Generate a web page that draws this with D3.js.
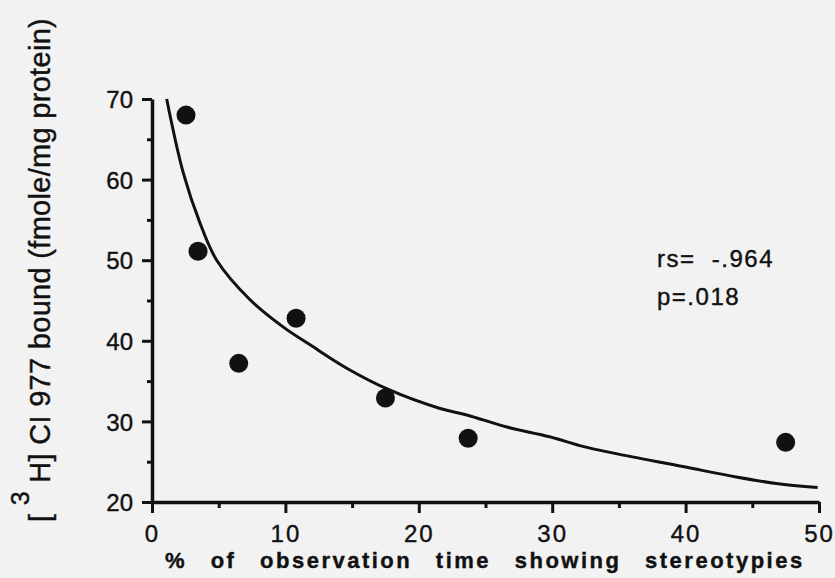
<!DOCTYPE html>
<html>
<head>
<meta charset="utf-8">
<script src="https://cdn.jsdelivr.net/npm/d3@7"></script>
<style>
  body { margin: 0; background: #f2f2f2; }
  svg { display: block; background: #f2f2f2; }
  text { font-family: "Liberation Sans", Arial, Helvetica, sans-serif; fill: #111; stroke: #111; stroke-width: 0.4px; }
</style>
</head>
<body>
<div id="chart"></div>
<script>

// measured points (% of observation time, fmole/mg protein)
var pctTime  = [2.55, 3.45, 6.5, 10.8, 17.5, 23.7, 47.5];
var bound    = [68.0, 51.1, 37.2, 42.8, 32.9, 27.9, 27.4];

// fitted curve
var curveX = [1.1, 2.35, 3.6, 4.85, 7.35, 9.85, 11.85, 14.6, 17.8, 21.6, 23.6, 26.6, 29.8, 32.3, 34.8, 39.8, 43.8, 46.8, 49.9];
var curveY = [70.0, 60.8, 54.6, 50.0, 45.1, 41.7, 39.5, 36.6, 33.9, 31.6, 30.8, 29.3, 28.1, 26.9, 26.0, 24.4, 23.1, 22.3, 21.8];

var xMajor = [0, 10, 20, 30, 40, 50];
var xMinor = [5, 15, 25, 35, 45];
var yMajor = [20, 30, 40, 50, 60, 70];
var yMinor = [25, 35, 45, 55, 65];

var statLines = ["rs=  -.964", "p=.018"];

var width = 835, height = 578;

var svg = d3.select("#chart").append("svg")
    .attr("width", width)
    .attr("height", height);

var x = d3.scaleLinear().domain([0, 50]).range([152, 819]);
var y = d3.scaleLinear().domain([20, 70]).range([502, 99]);

// y axis: minor ticks, then major ticks with labels
svg.append("g")
    .attr("transform", "translate(" + x(0) + ",0)")
    .call(d3.axisLeft(y).tickValues(yMinor).tickSize(5).tickSizeOuter(0).tickFormat(""))
    .call(function(g) { g.select(".domain").remove(); });

var yAx = svg.append("g")
    .attr("transform", "translate(" + x(0) + ",0)")
    .call(d3.axisLeft(y).tickValues(yMajor).tickSize(10).tickSizeOuter(0).tickPadding(9));

// x axis
svg.append("g")
    .attr("transform", "translate(0," + y(20) + ")")
    .call(d3.axisBottom(x).tickValues(xMinor).tickSize(6).tickSizeOuter(0).tickFormat(""))
    .call(function(g) { g.select(".domain").remove(); });

var xAx = svg.append("g")
    .attr("transform", "translate(0," + y(20) + ")")
    .call(d3.axisBottom(x).tickValues(xMajor).tickSize(11).tickSizeOuter(0).tickPadding(12));

svg.selectAll(".tick line")
    .attr("stroke", "#111")
    .attr("stroke-width", 3);
svg.selectAll(".domain")
    .attr("stroke", "#111")
    .attr("stroke-width", 3.5);

yAx.selectAll("text")
    .style("font-size", "24px")
    .attr("dy", "0.36em");

xAx.selectAll("text")
    .style("font-size", "24px")
    .style("letter-spacing", "2px")
    .attr("dy", "0.72em");

// fitted curve
var line = d3.line()
    .x(function(d, i) { return x(curveX[i]); })
    .y(function(d, i) { return y(curveY[i]); })
    .curve(d3.curveCatmullRom);

svg.append("path")
    .datum(curveX)
    .attr("d", line)
    .attr("fill", "none")
    .attr("stroke", "#111")
    .attr("stroke-width", 3);

// points
svg.selectAll(".dot")
    .data(pctTime)
    .enter().append("circle")
    .attr("class", "dot")
    .attr("cx", function(d) { return x(d); })
    .attr("cy", function(d, i) { return y(bound[i]); })
    .attr("r", 9.5)
    .attr("fill", "#111");

// stats
svg.selectAll(".stat")
    .data(statLines)
    .enter().append("text")
    .attr("class", "stat")
    .attr("x", 657)
    .attr("y", function(d, i) { return 267 + i * 38; })
    .style("font-size", "24px")
    .style("letter-spacing", "1.5px")
    .style("white-space", "pre")
    .text(function(d) { return d; });

// x title
svg.append("text")
    .attr("x", 165)
    .attr("y", 568)
    .style("font-size", "22px")
    .style("font-weight", "bold")
    .style("letter-spacing", "2.5px")
    .style("word-spacing", "15px")
    .text("% of observation time showing stereotypies");

// y title with superscript 3
var yt = svg.append("text")
    .attr("transform", "translate(50,270) rotate(-90)")
    .attr("text-anchor", "middle")
    .style("font-size", "29px")
    .style("letter-spacing", "0.3px")
    .style("white-space", "pre");
yt.append("tspan").text("[ ");
yt.append("tspan").attr("dy", -21).style("font-size", "25px").text("3");
yt.append("tspan").attr("dy", 21).text(" H] CI 977 bound (fmole/mg protein)");

</script>
</body>
</html>
